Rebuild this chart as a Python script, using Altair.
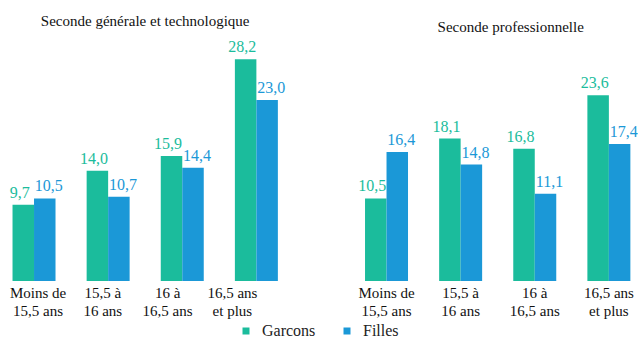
import altair as alt
import pandas as pd

# Age groups (line breaks mark the two-line tick labels)
ages = ["Moins de\n15,5 ans", "15,5 à\n16 ans", "16 à\n16,5 ans", "16,5 ans\net plus"]
sexes = ["Garçons", "Filles"]
sex_colors = ["#1bbc9c", "#1b98d7"]

# Rates (%) by age group
gt_garcons = [9.7, 14.0, 15.9, 28.2]
gt_filles = [10.5, 10.7, 14.4, 23.0]
pro_garcons = [10.5, 18.1, 16.8, 23.6]
pro_filles = [16.4, 14.8, 11.1, 17.4]

panel_titles = ["Seconde générale et technologique", "Seconde professionnelle"]
main_title = "Élèves selon le type de voie, l'âge et le genre (2019)"

SERIF = "'Liberation Serif', 'Times New Roman', serif"


def table(garcons, filles):
    rows = []
    for sexe, vals in zip(sexes, [garcons, filles]):
        for age, v in zip(ages, vals):
            rows.append({"age": age, "sexe": sexe, "taux": v,
                         "label": f"{v:.1f}".replace(".", ",")})
    return pd.DataFrame(rows)


ages_df = pd.DataFrame({"age": ages})

band_x = alt.X("age:N", sort=ages, axis=None,
               scale=alt.Scale(paddingInner=0.42, paddingOuter=0.169))
y_enc = alt.Y("taux:Q", axis=None, scale=alt.Scale(domain=[0, 30]))
offset = alt.XOffset("sexe:N", sort=sexes,
                     scale=alt.Scale(paddingInner=0, paddingOuter=0))


def panel(df, label_x, separate_labels):
    base = alt.Chart(df)
    bars = base.mark_bar().encode(
        x=band_x, xOffset=offset, y=y_enc,
        color=alt.Color("sexe:N", sort=sexes,
                        scale=alt.Scale(domain=sexes, range=sex_colors),
                        legend=alt.Legend(orient="none", legendX=238, legendY=278,
                                          direction="horizontal", title=None,
                                          symbolType="square", symbolSize=49,
                                          symbolStrokeWidth=0,
                                          labelFont=SERIF, labelFontSize=16,
                                          labelColor="#222222",
                                          labelOffset=8, columnPadding=23,
                                          padding=0)),
    )
    values = []
    for sexe, col, dx in zip(sexes, sex_colors, [-3.5, 4]):
        values.append(
            base.transform_filter(alt.datum.sexe == sexe)
            .mark_text(font=SERIF, fontSize=16, baseline="alphabetic", dx=dx, dy=-7,
                       color=col)
            .encode(x=band_x, xOffset=offset, y=y_enc, text="label:N")
        )
    ticks = alt.Chart(ages_df).mark_text(
        font=SERIF, fontSize=15, lineBreak="\n", lineHeight=18,
        baseline="alphabetic", dy=17, color="#111111"
    ).encode(x=label_x, y=alt.datum(0), text="age:N")
    core = alt.layer(bars, *values)
    full = alt.layer(core, ticks)
    if separate_labels:
        full = full.resolve_scale(x="independent")
    return full


left_label_x = alt.X("age:N", sort=ages, axis=None,
                     scale=alt.Scale(type="point", padding=0.741, align=0.396))


def titled(layer, text, dx):
    return layer.properties(
        width=290.4, height=236,
        title=alt.TitleParams(text, font=SERIF, fontSize=15, fontWeight="normal",
                              color="#111111", frame="group", dx=dx, offset=10),
    )


left = titled(panel(table(gt_garcons, gt_filles), left_label_x, True), panel_titles[0], 0)
right = titled(panel(table(pro_garcons, pro_filles), band_x, False), panel_titles[1], 13)

chart = alt.hconcat(left, right, spacing=61.5, bounds="flush").properties(
    title=alt.TitleParams(main_title, font="Open Sans", fontSize=23, fontWeight="bold",
                          color="#1d9bd6", baseline="alphabetic", offset=-2.5,
                          anchor="middle"),
    padding={"left": 0, "top": -25, "right": -5, "bottom": -3},
).configure(background="white", view=alt.ViewConfig(stroke=None))

chart.save("out.html", embed_options={"renderer": "svg", "actions": False})
